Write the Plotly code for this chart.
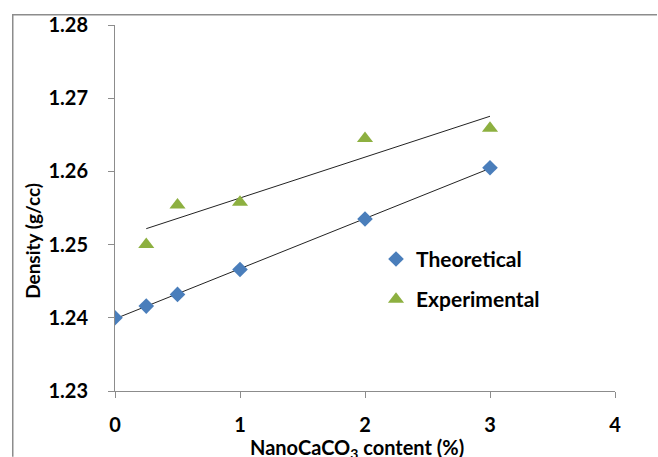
import numpy as np
import plotly.graph_objects as go

content_theo = [0, 0.25, 0.5, 1, 2, 3]
density_theo = [1.2400, 1.2416, 1.2432, 1.2466, 1.2535, 1.2605]
content_exp = [0.25, 0.5, 1, 2, 3]
density_exp = [1.2500, 1.2554, 1.2558, 1.2645, 1.2659]

x_ticks = [0, 1, 2, 3, 4]
y_ticks = [1.23, 1.24, 1.25, 1.26, 1.27, 1.28]

FONT = "Lato"
W, H = 658, 457
L, R, T, B = 115, 43, 23, 66
pw, ph = W - L - R, H - T - B

fig = go.Figure()

# linear trendlines (least squares on the data)
for xs, ys in [(content_theo, density_theo), (content_exp, density_exp)]:
    m, c = np.polyfit(xs, ys, 1)
    xe = [min(xs), max(xs)]
    fig.add_trace(go.Scatter(x=xe, y=[m * v + c for v in xe], mode="lines",
                             line=dict(color="#222222", width=1), showlegend=False,
                             hoverinfo="skip"))

fig.add_trace(go.Scatter(x=content_theo, y=density_theo, mode="markers", name="Theoretical",
                         legendgroup="a",
                         marker=dict(symbol="diamond", size=12, color="#4A7EBB")))
fig.add_trace(go.Scatter(x=content_exp, y=density_exp, mode="markers", name="Experimental",
                         legendgroup="b",
                         marker=dict(symbol="triangle-up", size=14, color="#8DB040")))

def px_to_paper_x(px):
    return (px - L) / pw

def px_to_paper_y(py):
    return (H - B - py) / ph

# outer chart frame (top and left edges visible in the view), drawn as thin filled bars
fig.add_shape(type="rect", xref="paper", yref="paper",
              x0=px_to_paper_x(12), x1=px_to_paper_x(657),
              y0=px_to_paper_y(13.5), y1=px_to_paper_y(12),
              fillcolor="#8C8C8C", line=dict(width=0))
fig.add_shape(type="rect", xref="paper", yref="paper",
              x0=px_to_paper_x(12), x1=px_to_paper_x(13.5),
              y0=px_to_paper_y(457), y1=px_to_paper_y(12),
              fillcolor="#8C8C8C", line=dict(width=0))

fig.add_annotation(text="<b>Density (g/cc)</b>", xref="paper", yref="paper",
                   x=px_to_paper_x(33), y=px_to_paper_y(240), textangle=-90,
                   showarrow=False, font=dict(family=FONT, size=19, color="black"),
                   xanchor="center", yanchor="middle")
fig.add_annotation(text="<b>NanoCaCO<sub>3</sub> content (%)</b>", xref="paper", yref="paper",
                   x=px_to_paper_x(357), y=px_to_paper_y(449),
                   showarrow=False, font=dict(family=FONT, size=20, color="black"),
                   xanchor="center", yanchor="middle")

axis_common = dict(showgrid=False, zeroline=False, showline=True, linecolor="#8C8C8C",
                   linewidth=1, ticks="outside", ticklen=6, tickcolor="#8C8C8C",
                   tickfont=dict(family=FONT, size=20, color="black", weight="bold"))

fig.update_xaxes(range=[0, 4], tickvals=x_ticks, ticktext=[str(v) for v in x_ticks],
                 ticklabelstandoff=10, **axis_common)
fig.update_yaxes(range=[1.23, 1.28], tickvals=y_ticks, ticktext=[f"{v:.2f}" for v in y_ticks],
                 ticklabelstandoff=16, **axis_common)

fig.update_layout(
    width=W, height=H, margin=dict(l=L, r=R, t=T, b=B),
    paper_bgcolor="white", plot_bgcolor="white",
    font=dict(family=FONT, color="black"),
    legend=dict(x=px_to_paper_x(376), y=px_to_paper_y(238), xanchor="left", yanchor="top",
                font=dict(family=FONT, size=21, color="black", weight="bold"),
                tracegroupgap=10, bgcolor="rgba(0,0,0,0)", itemwidth=30),
)

fig.write_html("out.html", config={"displayModeBar": False},
               post_script="document.body.style.margin='0';document.body.style.overflow='hidden';")
